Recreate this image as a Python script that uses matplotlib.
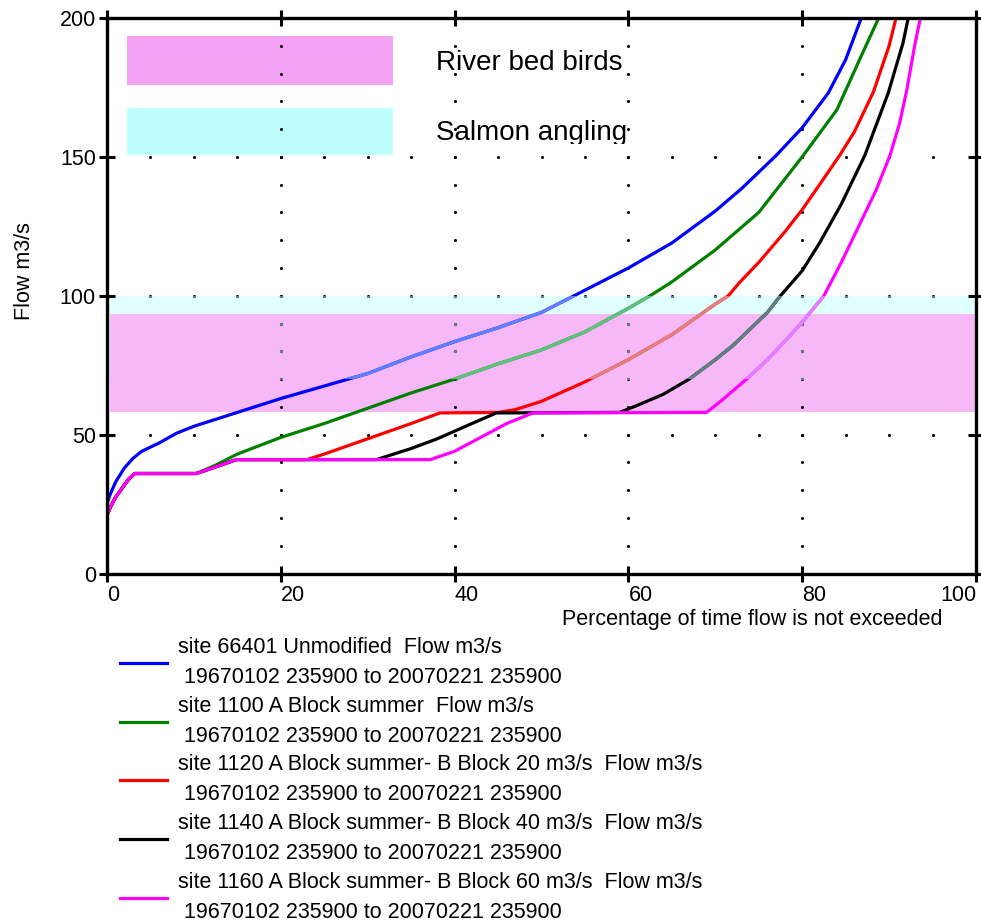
import numpy as np
import matplotlib
matplotlib.use('Agg')
import matplotlib.pyplot as plt
from matplotlib.patches import Rectangle
from matplotlib.colors import to_rgb
from matplotlib.transforms import Bbox, TransformedBbox

plt.rcParams['font.family'] = ['Liberation Sans', 'DejaVu Sans']

# flow duration curves (percent of time, flow m3/s)
blue_x = [0, 0.3, 1, 2, 3, 4, 6, 8, 10, 15, 20, 25, 30, 35, 40, 45, 50, 55, 60, 65, 70, 73, 75, 77, 80, 83, 85, 86.8]
blue_y = [25, 28, 33, 38, 41.5, 44, 47, 50.5, 53, 58, 63, 67.5, 72, 78, 83.5, 88.5, 94, 102, 110, 119, 130.5, 138.5, 144.5, 150.5, 160.5, 173, 185, 200]

green_x = [0, 0.4, 1, 1.8, 2.5, 3.2, 10.3, 12.5, 15, 20, 25, 30, 35, 40, 45, 50, 55, 60, 62.5, 65, 70, 75, 80, 84, 86.6, 88.8]
green_y = [21, 24, 27.5, 31, 34, 36, 36, 39, 43, 49, 54, 59.5, 65, 70, 75.5, 80.5, 87, 95.5, 100, 105, 116.5, 130, 150, 167, 185, 200]

red_x = [0, 0.4, 1, 1.8, 2.5, 3.2, 10.3, 14.9, 23, 25, 30, 35, 38.3, 45, 47, 50, 55, 60, 62.5, 65, 70, 71.5, 72.8, 75, 78, 80, 82, 84.3, 86, 88.2, 90, 90.8]
red_y = [21, 24, 27.5, 31, 34, 36, 36, 41, 41, 43, 48.5, 54, 57.8, 58, 59, 62, 69, 77, 81.5, 86, 97, 100, 104.8, 112, 123, 131, 140, 150.5, 159, 173.4, 190, 200]

black_x = [0, 0.4, 1, 1.8, 2.5, 3.2, 10.3, 14.9, 31, 35, 38, 42, 44.8, 59, 61, 64, 67, 70, 72, 74, 76, 77.5, 80, 82, 84.5, 87.2, 89.9, 91.6, 92.2]
black_y = [21, 24, 27.5, 31, 34, 36, 36, 41, 41, 45, 48.5, 54, 57.8, 58, 60.5, 64.5, 70, 77, 82, 88, 94, 100, 109, 119, 133, 150.5, 173, 191, 200]

magenta_x = [0, 0.4, 1, 1.8, 2.5, 3.2, 10.3, 14.9, 37.2, 40, 43, 46, 49, 69, 71, 73.6, 76, 78.2, 80, 82.5, 84.5, 86.5, 88.5, 90.1, 91.2, 92, 93, 93.6]
magenta_y = [21, 24, 27.5, 31, 34, 36, 36, 41, 41, 44, 49, 54, 57.8, 58, 63, 70, 77, 84.3, 90.5, 100, 112, 125, 138, 150.5, 162, 173.5, 191, 200]

series = [
    (blue_x, blue_y, '#0000ff', 'site 66401 Unmodified  Flow m3/s'),
    (green_x, green_y, '#008000', 'site 1100 A Block summer  Flow m3/s'),
    (red_x, red_y, '#ff0000', 'site 1120 A Block summer- B Block 20 m3/s  Flow m3/s'),
    (black_x, black_y, '#000000', 'site 1140 A Block summer- B Block 40 m3/s  Flow m3/s'),
    (magenta_x, magenta_y, '#ff00ff', 'site 1160 A Block summer- B Block 60 m3/s  Flow m3/s'),
]
period = ' 19670102 235900 to 20070221 235900'

# flow bands
birds_band = (58, 93.5)
salmon_band = (70, 100)

x_ticks = [0, 20, 40, 60, 80, 100]
y_ticks = [0, 50, 100, 150, 200]

pink = (0.97, 0.72, 0.97)
cyan = (0.76, 1, 1)


def washed(c):
    # colour of a mark seen through the salmon band
    return tuple(0.5 * a + 0.5 * b for a, b in zip(to_rgb(c), cyan))


fig = plt.figure(figsize=(9.81, 9.22), dpi=100)
ax = fig.add_axes([107 / 981, 1 - 573.5 / 922, 869 / 981, 555.5 / 922])


def band_clip():
    return Rectangle((0, salmon_band[0]), 100, salmon_band[1] - salmon_band[0],
                     transform=ax.transData)


# bands sit under the curves
ax.axhspan(*salmon_band, color='#e0ffff', lw=0, zorder=0.8)
ax.axhspan(*birds_band, xmin=0.004, color=pink, lw=0, zorder=0.9)

# dotted grid
gx, gy = [], []
for xv in [20, 40, 60, 80]:
    for yv in np.arange(10, 200, 10):
        gx.append(xv); gy.append(yv)
for yv in [50, 100, 150]:
    for xv in np.arange(5, 100, 5):
        gx.append(xv); gy.append(yv)
ax.plot(gx, gy, 'o', color='black', ms=2.2, mew=0, zorder=1.5)
d = ax.plot(gx, gy, 'o', color=washed('black'), ms=2.4, mew=0, zorder=1.6)[0]
d.set_clip_path(band_clip())

for xs, ys, c, lab in series:
    ax.plot(xs, ys, color=c, lw=2.3, label=lab + '\n' + period, zorder=2)
for xs, ys, c, lab in series:
    ln = ax.plot(xs, ys, color=washed(c), lw=2.4, zorder=2.1)[0]
    ln.set_clip_path(band_clip())

# key boxes top left
ax.add_patch(Rectangle((2.3, 176), 30.6, 17.5, color=(0.96, 0.64, 0.96), lw=0, zorder=1))
ax.add_patch(Rectangle((2.3, 150.7), 30.6, 17, color=(0.74, 1, 1), lw=0, zorder=1))
ax.text(37.9, 181.2, 'River bed birds', fontsize=20, va='baseline', ha='left')
t = ax.text(37.9, 155.9, 'Salmon angling', fontsize=20, va='baseline', ha='left')
t.set_clip_box(TransformedBbox(Bbox([[0, 154.7], [100, 200]]), ax.transData))
t.set_clip_on(True)

ax.set_xlim(0, 100)
ax.set_ylim(0, 200)
ax.set_xticks(x_ticks)
ax.set_yticks(y_ticks)
ax.tick_params(direction='inout', length=12, width=2.2, top=True, right=True,
               labelsize=15.5, pad=2)
for lbl in ax.get_xticklabels():
    lbl.set_ha('left')
ax.get_xticklabels()[-1].set_ha('right')
for s in ax.spines.values():
    s.set_linewidth(2.4)

ax.text(0.961, -0.064, 'Percentage of time flow is not exceeded', transform=ax.transAxes,
        ha='right', va='top', fontsize=15.5)
ax.text(-0.0955, 0.545, 'Flow m3/s', transform=ax.transAxes, rotation=90,
        ha='center', va='center', fontsize=15.5)

leg = fig.legend(loc='upper left', bbox_to_anchor=(120 / 981, 1 - 637 / 922), frameon=False,
                 fontsize=15.5, handlelength=2.2, handletextpad=0.5, labelspacing=0.36,
                 borderpad=0, borderaxespad=0)
for txt in leg.get_texts():
    txt.set_linespacing(1.56)

fig.savefig('out.png', dpi=100)
